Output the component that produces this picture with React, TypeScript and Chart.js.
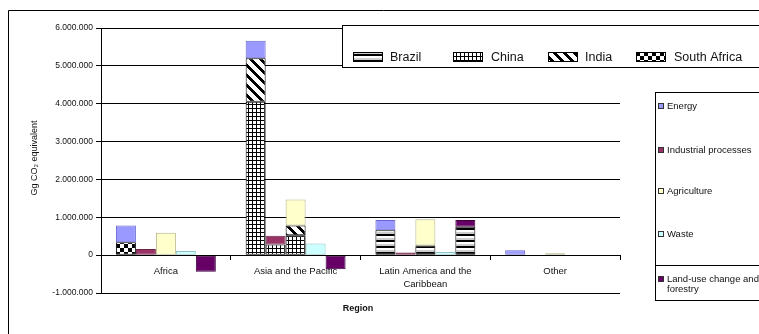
import React, { useEffect, useRef } from 'react';
import { Chart, registerables } from 'chart.js';

Chart.register(...registerables);

// ---------- data ----------
const regions: (string | string[])[] = ['Africa', 'Asia and the Pacific', ['Latin America and the', 'Caribbean'], 'Other'];
const sectors = ['Energy', 'Industrial processes', 'Agriculture', 'Waste', 'Land-use change and forestry'];
const sectorColors = ['#9999FF', '#993366', '#FFFFCC', '#CCFFFF', '#660066'];
const sectorBorders = ['#6666CC', '#6E2248', '#B4B488', '#8CC4C4', '#3A003A'];
const countries = ['Brazil', 'China', 'India', 'South Africa'];
const countryRegion = [2, 1, 1, 0]; // region index each country belongs to

// Country contributions by sector (Gg CO2 equivalent)
const brazilBySector = [660000, 0, 255000, 0, 750000];
const chinaBySector = [4050000, 280000, 525000, 0, 0];
const indiaBySector = [1150000, 0, 255000, 0, 0];
const southAfricaBySector = [340000, 0, 0, 0, 0];

// Remaining emissions of each region by sector
const energyRest = [440000, 460000, 270000, 130000];
const industrialRest = [160000, 230000, 70000, 0];
const agricultureRest = [590000, 690000, 695000, 50000];
const wasteRest = [110000, 305000, 85000, 0];
const landUseRest = [-440000, -370000, 180000, 0];

const yMin = -1000000;
const yMax = 6000000;
const yStep = 1000000;

const FONT = "'Liberation Sans', Arial, sans-serif";

function fmt(v: number): string {
  const neg = v < 0;
  const s = Math.abs(Math.round(v)).toString();
  let out = '';
  for (let i = 0; i < s.length; i++) {
    if (i > 0 && (s.length - i) % 3 === 0) out += '.';
    out += s[i];
  }
  return (neg ? '-' : '') + out;
}

function makePattern(kind: string): CanvasPattern | string {
  const sizes: Record<string, [number, number]> = {
    brazil: [6, 6],
    china: [4, 4],
    india: [10, 10],
    sa: [8, 8],
  };
  const [w, h] = sizes[kind];
  const c = document.createElement('canvas');
  c.width = w;
  c.height = h;
  const g = c.getContext('2d');
  if (!g) return '#888';
  const img = g.createImageData(w, h);
  for (let y = 0; y < h; y++) {
    for (let x = 0; x < w; x++) {
      let v = 255;
      if (kind === 'brazil') {
        v = y < 2 ? 0 : y < 4 ? 255 : 205;
      } else if (kind === 'china') {
        v = x === 0 || y === 0 ? 0 : 255;
      } else if (kind === 'india') {
        v = ((x - y + 20) % 10) < 4 ? 0 : 255;
      } else if (kind === 'sa') {
        v = (Math.floor(x / 4) + Math.floor(y / 4)) % 2 === 0 ? 0 : 255;
      }
      const i = (y * w + x) * 4;
      img.data[i] = v;
      img.data[i + 1] = v;
      img.data[i + 2] = v;
      img.data[i + 3] = 255;
    }
  }
  g.putImageData(img, 0, 0);
  const p = g.createPattern(c, 'repeat');
  return p || '#888';
}

export default function App() {
  const ref = useRef<HTMLCanvasElement | null>(null);

  useEffect(() => {
    if (!ref.current) return;
    const patterns = [makePattern('brazil'), makePattern('china'), makePattern('india'), makePattern('sa')];
    const countryValues = [brazilBySector, chinaBySector, indiaBySector, southAfricaBySector];
    const restValues = [energyRest, industrialRest, agricultureRest, wasteRest, landUseRest];

    const datasets: any[] = [];
    sectors.forEach((s, si) => {
      countries.forEach((c, ci) => {
        const data = regions.map((_, ri) => (ri === countryRegion[ci] ? countryValues[ci][si] : 0));
        if (data.some((v) => v !== 0)) {
          datasets.push({
            label: c + ' - ' + s,
            data,
            stack: s,
            backgroundColor: patterns[ci],
            borderColor: '#000000',
            borderWidth: 1,
            borderSkipped: false,
          });
        }
      });
      datasets.push({
        label: s,
        data: restValues[si],
        stack: s,
        backgroundColor: sectorColors[si],
        borderColor: sectorBorders[si],
        borderWidth: 1,
        borderSkipped: false,
      });
    });

    const overlay = {
      id: 'overlay',
      beforeDraw(chart: any) {
        const ctx = chart.ctx;
        ctx.save();
        ctx.fillStyle = '#ffffff';
        ctx.fillRect(0, 0, chart.width, chart.height);
        ctx.restore();
      },
      afterDraw(chart: any) {
        const ctx: CanvasRenderingContext2D = chart.ctx;
        ctx.save();
        ctx.strokeStyle = '#000000';
        ctx.lineWidth = 1;
        // outer chart border
        ctx.beginPath();
        ctx.moveTo(8.5, 334);
        ctx.lineTo(8.5, 10.5);
        ctx.lineTo(759, 10.5);
        ctx.stroke();

        // y-axis title
        ctx.fillStyle = '#111111';
        ctx.font = `9px ${FONT}`;
        ctx.textAlign = 'center';
        ctx.textBaseline = 'middle';
        ctx.save();
        ctx.translate(35, 158);
        ctx.rotate(-Math.PI / 2);
        ctx.fillText('Gg CO\u2082 equivalent', 0, 0);
        ctx.restore();

        // x-axis title
        ctx.font = `bold 9px ${FONT}`;
        ctx.fillText('Region', 358, 309);

        // top legend (countries)
        ctx.fillStyle = '#ffffff';
        ctx.fillRect(342, 25, 420, 42);
        ctx.strokeStyle = '#000000';
        ctx.strokeRect(342.5, 25.5, 420, 42);
        const topItems = [
          { sx: 353, tx: 390 },
          { sx: 453, tx: 491 },
          { sx: 548, tx: 585 },
          { sx: 636, tx: 674 },
        ];
        ctx.font = `12.5px ${FONT}`;
        ctx.textAlign = 'left';
        ctx.textBaseline = 'middle';
        countries.forEach((c, i) => {
          const it = topItems[i];
          ctx.fillStyle = patterns[i] as any;
          ctx.fillRect(it.sx, 52, 30, 10);
          ctx.strokeStyle = '#000000';
          ctx.strokeRect(it.sx + 0.5, 52.5, 29, 9);
          ctx.fillStyle = '#111111';
          ctx.fillText(c, it.tx, 57.5);
        });

        // right legend (sectors)
        ctx.fillStyle = '#ffffff';
        ctx.fillRect(655, 92, 110, 208);
        ctx.strokeStyle = '#000000';
        ctx.strokeRect(655.5, 92.5, 110, 208);
        ctx.beginPath();
        ctx.moveTo(655, 265.5);
        ctx.lineTo(759, 265.5);
        ctx.stroke();
        const rightY = [106, 150, 191, 234, 279];
        ctx.font = `9.5px ${FONT}`;
        sectors.forEach((s, i) => {
          const y = rightY[i];
          ctx.fillStyle = sectorColors[i];
          ctx.fillRect(658, y - 3, 6, 6);
          ctx.strokeStyle = '#333333';
          ctx.strokeRect(658.5, y - 2.5, 5, 5);
          ctx.fillStyle = '#111111';
          if (i === 4) {
            ctx.fillText('Land-use change and', 667, y);
            ctx.fillText('forestry', 667, y + 10);
          } else {
            ctx.fillText(s, 667, y);
          }
        });
        ctx.restore();
      },
    };

    const chart = new Chart(ref.current, {
      type: 'bar',
      data: { labels: regions as any, datasets },
      options: {
        animation: false,
        responsive: false,
        events: [],
        layout: { padding: { left: 0, top: 28, right: 139, bottom: 41 } },
        plugins: { legend: { display: false }, tooltip: { enabled: false }, title: { display: false } },
        datasets: { bar: { categoryPercentage: 0.77, barPercentage: 1 } },
        scales: {
          x: {
            stacked: true,
            position: { y: 0 } as any,
            grid: {
              display: true,
              drawOnChartArea: false,
              drawTicks: true,
              tickLength: 4,
              offset: true,
              color: '#000000',
            },
            border: { display: true, color: '#000000', width: 1 },
            ticks: {
              color: '#111111',
              font: { family: FONT, size: 9.5, lineHeight: 1.35 },
              padding: 6,
              maxRotation: 0,
              autoSkip: false,
            },
          },
          y: {
            stacked: true,
            min: yMin,
            max: yMax,
            afterFit: (scale: any) => {
              scale.width = 101;
            },
            grid: {
              color: '#000000',
              lineWidth: 1,
              drawTicks: true,
              tickLength: 5,
            },
            border: { display: true, color: '#000000', width: 1 },
            ticks: {
              stepSize: yStep,
              color: '#111111',
              font: { family: FONT, size: 8.5 },
              padding: 3,
              callback: (v: any) => fmt(Number(v)),
            },
          },
        },
      },
      plugins: [overlay],
    } as any);

    return () => chart.destroy();
  }, []);

  return (
    <div style={{ position: 'fixed', left: 0, top: 0, width: 759, height: 334 }}>
      <canvas ref={ref} width={759} height={334} style={{ display: 'block', width: 759, height: 334 }} />
    </div>
  );
}
